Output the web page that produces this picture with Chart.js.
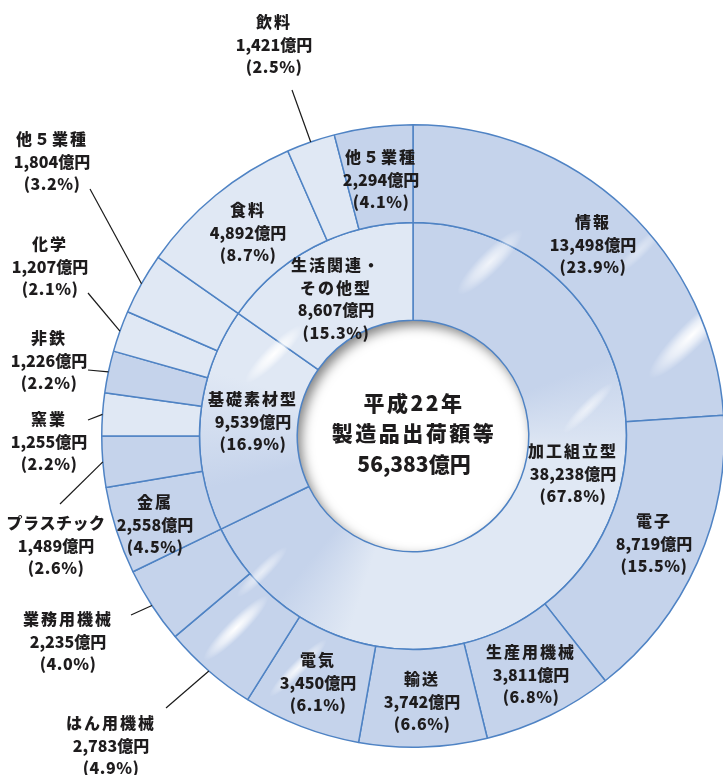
<!DOCTYPE html>
<html lang="ja">
<head>
<meta charset="utf-8">
<script src="https://cdn.jsdelivr.net/npm/chart.js@4.4.0/dist/chart.umd.min.js"></script>
<style>
  html, body { margin: 0; padding: 0; background: #fff; overflow: hidden; }
  #wrap { position: relative; width: 760px; height: 775px; }
</style>
</head>
<body>
<div id="wrap"><canvas id="shipments" width="760" height="775"></canvas></div>
<script>
// 製造品出荷額等（平成22年） 単位：億円
const totalValue = 56383;

// inner ring: 3 groups
const groupNames = ['加工組立型', '基礎素材型', '生活関連・\nその他型'];
const groupValues = [38238, 9539, 8607];
const groupShares = [67.8, 16.9, 15.3];

// outer ring: industries, clockwise from the top
const industryNames = ['情報', '電子', '生産用機械', '輸送', '電気', 'はん用機械', '業務用機械',
  '金属', 'プラスチック', '窯業', '非鉄', '化学', '他５業種',
  '食料', '飲料', '他５業種'];
const industryValues = [13498, 8719, 3811, 3742, 3450, 2783, 2235,
  2558, 1489, 1255, 1226, 1207, 1804,
  4892, 1421, 2294];
const industryShares = [23.9, 15.5, 6.8, 6.6, 6.1, 4.9, 4.0,
  4.5, 2.6, 2.2, 2.2, 2.1, 3.2,
  8.7, 2.5, 4.1];

// colours
const MID = '#c5d3eb';
const LIGHT = '#e0e8f4';
const EDGE = '#4f83c4';
const INK = '#1e1c1d';
const industryTone = [MID, MID, MID, MID, MID, MID, MID,
  MID, MID, LIGHT, MID, LIGHT, LIGHT,
  LIGHT, LIGHT, MID];

// label placement (text centre, first line)
const industryLabelAt = {
  0: [593, 222], 1: [654, 521], 2: [531, 652], 3: [422, 679], 4: [318, 660],
  7: [155, 502], 13: [248, 210], 15: [381, 157]
};
// labels outside the ring, with the start of their leader line
const calloutAt = {
  5: { text: [111, 723], from: [166, 708] },
  6: { text: [68, 619], from: [131, 615] },
  8: { text: [56, 523], from: [60, 504] },
  9: { text: [49, 419], from: [88, 420] },
  10: { text: [49, 338], from: [88, 370] },
  11: { text: [50, 244], from: [88, 293] },
  12: { text: [52, 139], from: [90, 189] },
  14: { text: [274, 22], from: [292, 90] }
};
const groupLabelAt = [[573, 451], [253, 399], [336, 265]];

// soft highlights on the rings: x, y, length, width, strength
const shine = [
  [692, 335, 120, 26, 1], [490, 262, 90, 22, 0.75], [274, 354, 80, 18, 1],
  [588, 408, 70, 14, 0.6], [236, 628, 90, 18, 1], [298, 668, 80, 14, 0.85],
  [262, 572, 70, 14, 0.6], [640, 250, 70, 14, 0.4]
];

const fmt = v => v.toLocaleString('en-US');

let innerGradient = null;
function innerFill(chart) {
  const area = chart.chartArea;
  if (!area) return MID;
  if (!innerGradient) {
    const cx = (area.left + area.right) / 2;
    const cy = (area.top + area.bottom) / 2;
    const g = chart.ctx.createConicGradient(-Math.PI / 2, cx, cy);
    g.addColorStop(0, MID);
    g.addColorStop(0.19, MID);
    g.addColorStop(0.27, LIGHT);
    g.addColorStop(0.55, LIGHT);
    g.addColorStop(0.61, MID);
    g.addColorStop(0.71, MID);
    g.addColorStop(0.80, LIGHT);
    g.addColorStop(1, LIGHT);
    innerGradient = g;
  }
  return innerGradient;
}

function streak(ctx, x, y, len, wid, alpha) {
  ctx.save();
  ctx.translate(x, y);
  ctx.rotate(-Math.PI / 4);
  ctx.scale(len / 2, wid / 2);
  const g = ctx.createRadialGradient(0, 0, 0, 0, 0, 1);
  g.addColorStop(0, 'rgba(255,255,255,' + alpha + ')');
  g.addColorStop(0.5, 'rgba(255,255,255,' + alpha * 0.6 + ')');
  g.addColorStop(1, 'rgba(255,255,255,0)');
  ctx.fillStyle = g;
  ctx.beginPath();
  ctx.arc(0, 0, 1, 0, Math.PI * 2);
  ctx.fill();
  ctx.restore();
}

// name / value / share, each line with its own tracking
function textBlock(ctx, lines, x, y, lh, spacing) {
  lines.forEach((t, i) => {
    ctx.letterSpacing = spacing[Math.min(i, spacing.length - 1)];
    ctx.fillText(t, x, y + i * lh);
  });
}

const ringDecor = {
  id: 'ringDecor',
  beforeDatasetsDraw(chart) {
    // shadow inside the hole
    const ctx = chart.ctx;
    const el = chart.getDatasetMeta(1).data[0];
    ctx.save();
    ctx.beginPath();
    ctx.arc(el.x, el.y, el.innerRadius, 0, Math.PI * 2);
    ctx.clip();
    ctx.beginPath();
    ctx.arc(el.x, el.y, el.innerRadius + 40, 0, Math.PI * 2);
    ctx.lineWidth = 80;
    ctx.strokeStyle = '#000';
    ctx.shadowColor = 'rgba(0,0,0,0.5)';
    ctx.shadowBlur = 12;
    ctx.shadowOffsetX = 4;
    ctx.shadowOffsetY = 5;
    ctx.stroke();
    ctx.restore();
  },
  afterDatasetsDraw(chart) {
    const ctx = chart.ctx;
    const outer = chart.getDatasetMeta(0).data;
    const inner = chart.getDatasetMeta(1).data;
    const c = inner[0];

    // highlights, kept inside the rings
    ctx.save();
    ctx.beginPath();
    ctx.arc(c.x, c.y, outer[0].outerRadius - 1, 0, Math.PI * 2);
    ctx.arc(c.x, c.y, c.innerRadius + 1, 0, Math.PI * 2, true);
    ctx.clip();
    shine.forEach(s => streak(ctx, s[0], s[1], s[2], s[3], s[4]));
    ctx.restore();

    ctx.save();
    ctx.fillStyle = INK;
    ctx.textAlign = 'center';
    ctx.textBaseline = 'middle';
    ctx.font = '900 16px "Noto Sans CJK JP", sans-serif';
    const tracking = ['2px', '0px', '0.5px'];

    industryNames.forEach((name, i) => {
      const lines = [name, fmt(industryValues[i]) + '億円', '(' + industryShares[i].toFixed(1) + '%)'];
      if (industryLabelAt[i]) {
        textBlock(ctx, lines, industryLabelAt[i][0], industryLabelAt[i][1], 22.5, tracking);
      } else if (calloutAt[i]) {
        const co = calloutAt[i];
        textBlock(ctx, lines, co.text[0], co.text[1], 22.5, i === 8 ? ['0.5px', '0px', '0.5px'] : tracking);
        const el = outer[i];
        const a = (el.startAngle + el.endAngle) / 2;
        ctx.save();
        ctx.strokeStyle = '#1a1a1a';
        ctx.lineWidth = 1.2;
        ctx.beginPath();
        ctx.moveTo(co.from[0], co.from[1]);
        ctx.lineTo(el.x + el.outerRadius * Math.cos(a), el.y + el.outerRadius * Math.sin(a));
        ctx.stroke();
        ctx.restore();
      }
    });

    groupNames.forEach((name, i) => {
      const nameLines = name.split('\n');
      const lines = nameLines.concat([fmt(groupValues[i]) + '億円', '(' + groupShares[i].toFixed(1) + '%)']);
      const sp = nameLines.map(() => '2px').concat(['0px', '0.5px']);
      textBlock(ctx, lines, groupLabelAt[i][0], groupLabelAt[i][1], 22.5, sp);
    });

    // centre caption
    ctx.font = '900 21px "Noto Sans CJK JP", sans-serif';
    textBlock(ctx, ['平成22年', '製造品出荷額等', fmt(totalValue) + '億円'],
      c.x + 1, 403, 30.5, ['2.5px', '2.5px', '0px']);
    ctx.restore();
  }
};

new Chart(document.getElementById('shipments'), {
  type: 'doughnut',
  data: {
    labels: industryNames,
    datasets: [
      {
        data: industryValues,
        backgroundColor: industryTone,
        borderColor: EDGE,
        borderWidth: 1.5,
        hoverOffset: 0
      },
      {
        data: groupValues,
        backgroundColor: ctx => innerFill(ctx.chart),
        borderColor: EDGE,
        borderWidth: 1.5,
        hoverOffset: 0
      }
    ]
  },
  options: {
    responsive: false,
    animation: false,
    devicePixelRatio: 1,
    events: [],
    cutout: '37.2%',
    layout: { padding: { left: 101, right: 35, top: 124, bottom: 27 } },
    plugins: {
      legend: { display: false },
      tooltip: { enabled: false }
    }
  },
  plugins: [ringDecor]
});
</script>
</body>
</html>
